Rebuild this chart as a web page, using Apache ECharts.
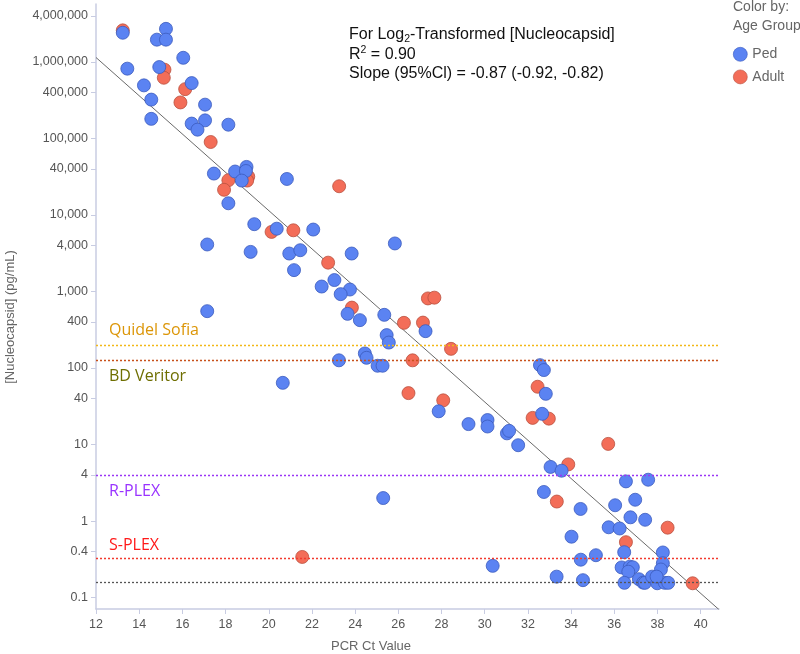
<!DOCTYPE html>
<html><head><meta charset="utf-8">
<script src="https://cdn.jsdelivr.net/npm/echarts@6/dist/echarts.min.js"></script>
<style>html,body{margin:0;padding:0;background:#fff}#c{width:800px;height:654px}</style>
</head><body><div id="c"></div>
<script>
// ---- data ----
const pedCt = [13.24,15.24,14.82,15.24,16.04,13.45,14.93,14.22,16.43,14.56,17.05,14.56,17.05,16.43,16.70,18.13,
  17.46,18.44,18.97,18.94,18.75,20.84,18.13,17.15,17.15,19.33,20.37,22.06,19.16,20.95,21.46,21.17,23.84,25.84,
  22.45,23.04,23.76,23.33,23.65,24.22,25.35,25.46,25.56,23.25,24.45,24.53,25.04,25.27,20.65,27.26,27.87,29.25,
  30.13,30.13,31.03,31.13,31.55,32.56,32.74,32.83,32.66,33.05,33.56,25.30,32.74,30.37,33.33,36.54,37.57,34.44,
  36.04,36.97,36.75,37.43,35.74,36.25,34.02,35.15,34.45,36.46,38.25,38.25,38.16,36.34,36.72,36.86,36.65,34.55,
  36.47,37.14,37.34,37.42,37.75,37.99,38.34,38.50,37.96];
const pedVal = [2400000,2700000,1950000,1950000,1130000,815000,855000,493000,528000,321000,276000,180000,172000,156000,130000,151000,
  34700,36900,42400,37500,28100,29500,14200,4110,553,7570,6610,6440,3290,3130,3460,1900,3130,4240,
  1160,1410,1060,923,510,422,495,269,215,126,155,136,107,107,64,303,27.2,18.5,
  20.9,17.2,14.0,15.1,9.8,109,94,46,25.2,5.1,4.55,2.0,2.4,0.26,0.188,3.3,3.47,1.44,
  1.61,1.90,1.12,1.04,0.83,0.80,0.625,0.358,0.313,0.392,0.389,0.281,0.233,0.248,0.254,0.249,0.218,0.169,
  0.156,0.174,0.157,0.156,0.188,0.154,0.156,0.156,0.188];
const adultCt = [13.24,15.17,15.14,16.13,15.91,17.31,19.05,19.00,18.13,17.93,23.26,20.13,21.14,22.75,23.85,26.26,
  27.14,27.37,27.67,28.44,26.66,26.47,28.08,32.22,32.97,32.45,33.87,35.72,33.34,38.47,36.54,21.55,39.63];
const adultVal = [2580000,790000,620000,440000,295000,89700,31700,28100,28400,21300,23700,6000,6300,2380,615,389,
  392,811,830,178,126,47,37.8,22.3,21.8,56.9,5.5,10.2,1.8,0.82,0.53,0.34,0.154];
const fitCt = [12, 40.85];
const fitVal = [1140000, 0.0697];
const xTicks = [12,14,16,18,20,22,24,26,28,30,32,34,36,38,40];
const yTicks = [0.1,0.4,1,4,10,40,100,400,1000,4000,10000,40000,100000,400000,1000000,4000000];
const thresholdNames = ['Quidel Sofia','BD Veritor','R-PLEX','S-PLEX',''];
const thresholdVals = [200,125,4,0.32,0.16];
const thresholdColors = ['#f2b817','#c8501a','#9a36f5','#f23a2e','#555555'];
const thresholdTextColors = ['#dc9608','#6e6e00','#9933ff','#ff1a1a',''];
const thresholdLabelDy = [-15,16,16,-14,0];

// ---- chart ----
const L = Math.log10;
const chart = echarts.init(document.getElementById('c'), null, {renderer:'canvas'});
const pts = (xs, ys) => xs.map((x,i)=>[x, L(ys[i])]);
const fmt = v => { const n = Math.pow(10, v); if (n < 1) return (Math.round(n*10)/10).toFixed(1); return Math.round(n).toLocaleString('en-US'); };
const FONT = 'Liberation Sans, Arial, sans-serif';
const axisCol = '#c8cce2';

chart.setOption({
  animation:false,
  backgroundColor:'#fff',
  grid:{left:96, right:81, top:4, bottom:45, containLabel:false},
  xAxis:{type:'value', min:12, max:40.85,
    axisLine:{show:true, onZero:false, lineStyle:{color:axisCol, width:1.5}},
    axisTick:{show:true, length:5, customValues:xTicks, lineStyle:{color:axisCol}},
    axisLabel:{customValues:xTicks, color:'#555', fontSize:12.5, fontFamily:FONT, margin:9},
    splitLine:{show:false}},
  yAxis:{type:'value', min:L(0.071), max:L(5.7e6),
    axisLine:{show:true, onZero:false, lineStyle:{color:axisCol, width:1.5}},
    axisTick:{show:true, length:5, customValues:yTicks.map(L), lineStyle:{color:axisCol}},
    axisLabel:{customValues:yTicks.map(L), formatter:fmt, color:'#555', fontSize:12.5, fontFamily:FONT, margin:8},
    splitLine:{show:false}},
  legend:{data:['Ped','Adult'], orient:'vertical', left:733, top:47, padding:0, itemWidth:14, itemHeight:14, itemGap:8,
    icon:'circle', itemStyle:{borderWidth:0.6},
    textStyle:{color:'#666', fontSize:14, fontFamily:FONT}, selectedMode:false},
  series:[
    {type:'line', name:'fit', data:pts(fitCt, fitVal), symbol:'none', silent:true,
      lineStyle:{color:'#6a6a6a', width:1}, z:2,
      markLine:{silent:true, symbol:['none','none'], label:{show:false},
        data: thresholdVals.map((v,i)=>({yAxis:L(v), lineStyle:{color:thresholdColors[i], type:[2,2], width:1.3}}))}},
    {type:'scatter', name:'Adult', data:pts(adultCt, adultVal), symbolSize:13, z:3,
      itemStyle:{color:'#f36d58', borderColor:'#b9513f', borderWidth:0.8, opacity:1}},
    {type:'scatter', name:'Ped', data:pts(pedCt, pedVal), symbolSize:13, z:4,
      itemStyle:{color:'#5b83f2', borderColor:'#3b5bbd', borderWidth:0.8, opacity:1}}
  ]
});

const g = [];
thresholdNames.forEach((nm,i)=>{
  if(!nm) return;
  const p = chart.convertToPixel({gridIndex:0}, [12, L(thresholdVals[i])]);
  g.push({type:'text', x:109, y:p[1]+thresholdLabelDy[i], style:{text:nm, fill:thresholdTextColors[i], fontSize:16,
    fontFamily:'Open Sans, sans-serif', textVerticalAlign:'middle', textAlign:'left'}});
});
g.push({type:'text', x:349, y:25, style:{
  text:'{a|For Log}{s|2}{a|-Transformed [Nucleocapsid]}\n{a|R}{p|2}{a| = 0.90}\n{a|Slope (95%Cl) = -0.87 (-0.92, -0.82)}',
  rich:{a:{fontSize:16, fontFamily:FONT, fill:'#111', lineHeight:19.5},
        s:{fontSize:10.5, fontFamily:FONT, fill:'#111', lineHeight:11, verticalAlign:'bottom'},
        p:{fontSize:10.5, fontFamily:FONT, fill:'#111', lineHeight:11, verticalAlign:'top'}}}});
g.push({type:'text', x:733, y:-2, style:{text:'Color by:\nAge Group', fill:'#666', fontSize:14, fontFamily:FONT, lineHeight:19}});
g.push({type:'text', x:371, y:646, style:{text:'PCR Ct Value', fill:'#666', fontSize:13, fontFamily:FONT, textAlign:'center', textVerticalAlign:'middle'}});
g.push({type:'text', x:10, y:317, rotation:Math.PI/2, style:{text:'[Nucleocapsid] (pg/mL)', fill:'#666', fontSize:13, fontFamily:FONT, textAlign:'center', textVerticalAlign:'middle'}});
chart.setOption({graphic:g});
</script></body></html>
